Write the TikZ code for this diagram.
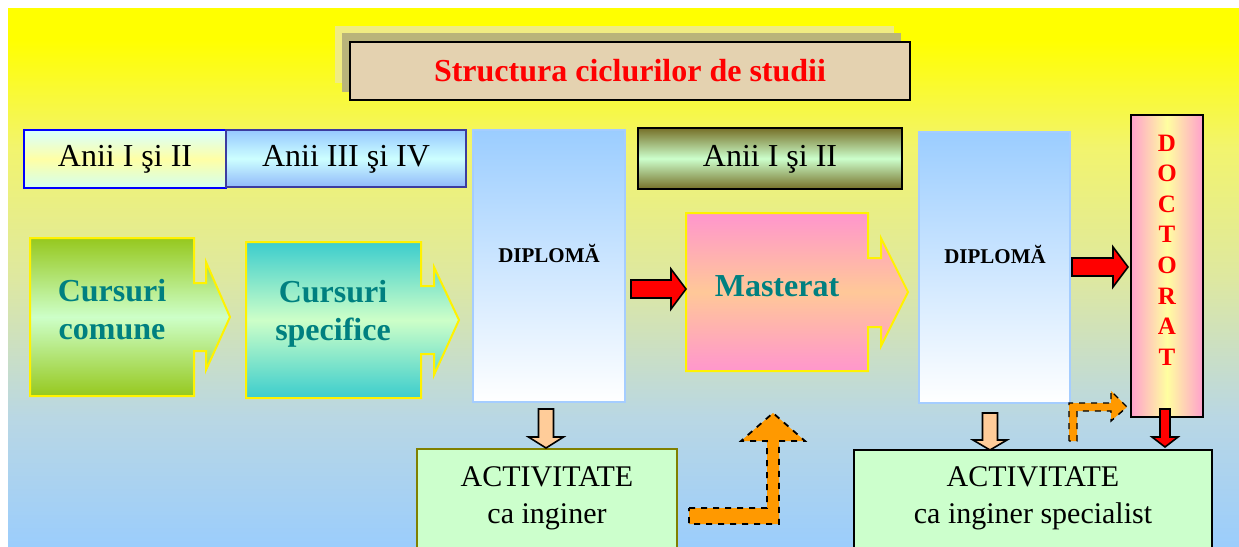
\documentclass[tikz,border=0pt]{standalone}
\usepackage{fontspec}
\setmainfont{Liberation Serif}

\definecolor{tealtxt}{RGB}{0,128,128}
\definecolor{bgblue}{RGB}{155,205,252}
\definecolor{bglow}{RGB}{185,215,228}
\definecolor{bgmid}{RGB}{222,232,160}
\definecolor{bghigh}{RGB}{242,244,110}
\definecolor{bgtop}{RGB}{255,255,0}
\definecolor{parch}{RGB}{228,210,176}
\definecolor{shadowA}{RGB}{240,236,130}
\definecolor{shadowB}{RGB}{185,180,122}
\definecolor{peach}{RGB}{255,204,153}
\definecolor{mint}{RGB}{204,255,204}
\definecolor{orangeA}{RGB}{255,153,0}
\definecolor{olive2}{RGB}{128,128,0}

% the part from 25bp to 75bp is stretched over the shaded path
\pgfdeclareverticalshading{bgshade}{100bp}{color(0bp)=(bgblue); color(25bp)=(bgblue);
  color(37bp)=(bglow); color(50bp)=(bgmid); color(62bp)=(bghigh); color(72bp)=(bgtop); color(100bp)=(bgtop)}

\tikzset{
  yearbox/.style={font=\fontsize{16}{19}\selectfont},
  course/.style={font=\bfseries\fontsize{16}{19}\selectfont, text=tealtxt, align=center},
  diploma/.style={font=\bfseries\fontsize{10.5}{12}\selectfont},
  job/.style={font=\fontsize{15}{18.5}\selectfont, align=center},
  redarrow/.style={fill=red, draw=black, line width=0.8pt},
  peacharrow/.style={fill=peach, draw=black, line width=0.8pt},
  orangearrow/.style={fill=orangeA, draw=black, line width=0.9pt, dashed},
}

% right and down block arrows: start, tip, head start, axis, half shaft, half head
\newcommand{\rblock}[7][]{
  \draw[#1] (#2,{#5-#6}) -- (#4,{#5-#6}) -- (#4,{#5-#7}) -- (#3,#5)
    -- (#4,{#5+#7}) -- (#4,{#5+#6}) -- (#2,{#5+#6}) -- cycle;}
\newcommand{\dblock}[7][]{
  \draw[#1] ({#5-#6},#2) -- ({#5-#6},#4) -- ({#5-#7},#4) -- (#5,#3)
    -- ({#5+#7},#4) -- ({#5+#6},#4) -- ({#5+#6},#2) -- cycle;}

\begin{document}
\begin{tikzpicture}[x=0.5pt, y=-0.5pt]
  \useasboundingbox (0,0) rectangle (1239,547);
  \clip (0,0) rectangle (1239,547);
  % background
  \fill[white] (0,0) rectangle (1239,547);
  \shade[shading=bgshade] (8,8) rectangle (1239,547);

  % title
  \fill[shadowA] (335,26) rectangle (894,83);
  \fill[shadowB] (342,33) rectangle (901,92);
  \draw[fill=parch, line width=1pt] (350,42) rectangle (910,100);
  \node[font=\bfseries\fontsize{16}{19}\selectfont, text=red] (title) at (630,71) {Structura ciclurilor de studii};

  % years
  \shadedraw[draw=blue, line width=1pt, top color={rgb,255:red,215;green,255;blue,255},
    bottom color={rgb,255:red,210;green,255;blue,240}, middle color={rgb,255:red,255;green,255;blue,165}]
    (24,130) rectangle (226,188);
  \shadedraw[draw={rgb,255:red,60;green,60;blue,160}, line width=0.8pt, top color={rgb,255:red,150;green,200;blue,255},
    bottom color={rgb,255:red,145;green,185;blue,250}, middle color={rgb,255:red,205;green,255;blue,255}]
    (226,130) rectangle (466,187);
  \shadedraw[draw=black, line width=1pt, top color={rgb,255:red,118;green,112;blue,40},
    bottom color={rgb,255:red,118;green,112;blue,40}, middle color=mint]
    (638,128) rectangle (902,189);
  \node[yearbox] (aniiA) at (125,159) {Anii I şi II};
  \node[yearbox] (aniiB) at (346,159) {Anii III şi IV};
  \node[yearbox] (aniiM) at (770,159) {Anii I şi II};

  % courses
  \shadedraw[draw=yellow, line width=1pt, top color={rgb,255:red,150;green,200;blue,30},
    bottom color={rgb,255:red,150;green,200;blue,30}, middle color={rgb,255:red,205;green,255;blue,200}]
    (30,238) -- (194,238) -- (194,283) -- (206,283) -- (206,262) -- (230,317) -- (206,370)
    -- (206,351) -- (194,351) -- (194,396) -- (30,396) -- cycle;
  \shadedraw[draw=yellow, line width=1pt, top color={rgb,255:red,60;green,205;blue,205},
    bottom color={rgb,255:red,60;green,205;blue,205}, middle color={rgb,255:red,205;green,255;blue,200}]
    (246,242) -- (421,242) -- (421,286) -- (434,286) -- (434,267) -- (459,320) -- (434,375)
    -- (434,354) -- (421,354) -- (421,398) -- (246,398) -- cycle;
  \node[course] (comune) at (112,310) {Cursuri\\comune};
  \node[course] (specif) at (333,314) {Cursuri\\specifice};

  % diplomas
  \shadedraw[draw={rgb,255:red,165;green,205;blue,255}, line width=0.6pt,
    top color={rgb,255:red,155;green,205;blue,255}, bottom color=white]
    (473,130) rectangle (625,402);
  \shadedraw[draw={rgb,255:red,165;green,205;blue,255}, line width=0.6pt,
    top color={rgb,255:red,155;green,205;blue,255}, bottom color=white]
    (919,132) rectangle (1070,403);
  \node[diploma] (dipA) at (549,253) {DIPLOMĂ};
  \node[diploma] (dipB) at (995,254) {DIPLOMĂ};

  % master
  \shadedraw[draw=yellow, line width=1pt, top color={rgb,255:red,255;green,150;blue,205},
    bottom color={rgb,255:red,255;green,150;blue,205}, middle color={rgb,255:red,255;green,200;blue,152}]
    (686,213) -- (868,213) -- (868,258) -- (881,258) -- (881,238) -- (908,292) -- (881,346)
    -- (881,327) -- (868,327) -- (868,371) -- (686,371) -- cycle;
  \node[course] (mast) at (777,286) {Masterat};

  % doctorate
  \shadedraw[draw=black, line width=1pt, left color={rgb,255:red,255;green,160;blue,205},
    right color={rgb,255:red,255;green,160;blue,205}, middle color={rgb,255:red,255;green,255;blue,160}]
    (1131,115) rectangle (1203,417);
  \node[font=\bfseries\fontsize{12.5}{15.3}\selectfont, text=red, align=center] (doct) at (1167,250)
    {D\\O\\C\\T\\O\\R\\A\\T};

  % activities
  \draw[fill=mint, draw=olive2, line width=1pt] (417,449) rectangle (677,560);
  \draw[fill=mint, draw=black, line width=1pt] (854,450) rectangle (1212,560);
  \node[job] (actA) at (547,498) {ACTIVITATE\\ca inginer};
  \node[job] (actB) at (1033,498) {ACTIVITATE\\ca inginer specialist};

  % arrows
  \rblock[redarrow]{631}{686}{671}{289}{9}{20}
  \rblock[redarrow]{1072}{1128}{1113}{267}{9}{20}
  \dblock[peacharrow]{409}{448}{437}{546}{7.5}{17.5}
  \dblock[peacharrow]{413}{450}{440}{990}{7.5}{17}
  \dblock[redarrow]{409}{447}{437}{1165}{5}{13}
  \draw[orangearrow] (689,508) -- (767,508) -- (767,441) -- (741,441) -- (773,413) -- (805,441)
    -- (779,441) -- (779,524) -- (689,524) -- cycle;
  \draw[orangearrow, line width=0.7pt] (1069,441) -- (1069,403) -- (1111,403) -- (1111,391) -- (1127,407)
    -- (1111,421) -- (1111,411) -- (1077,411) -- (1077,441) -- cycle;
\end{tikzpicture}
\end{document}
